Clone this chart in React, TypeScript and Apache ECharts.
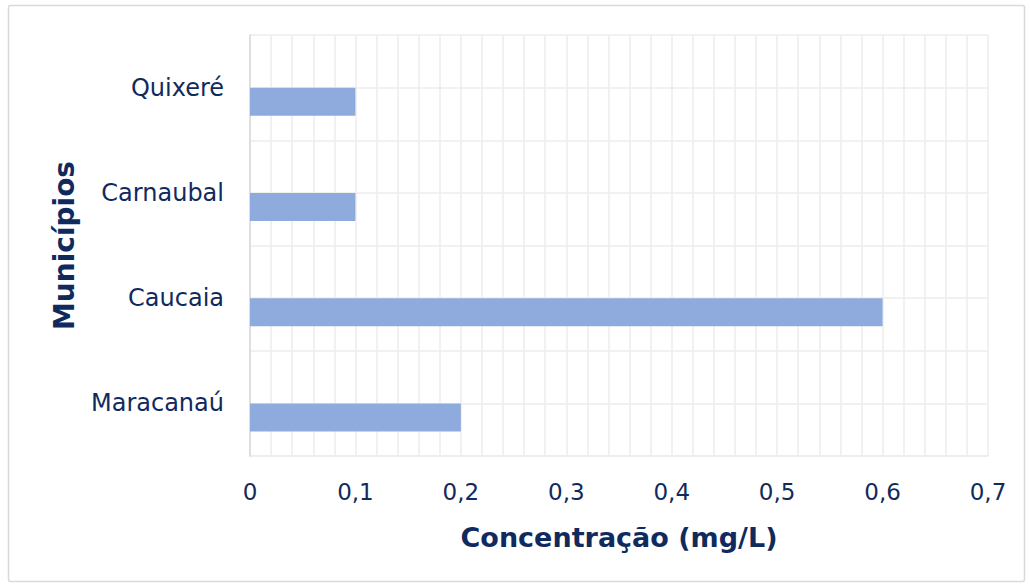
import React, { useEffect, useRef } from "react";
import * as echarts from "echarts";

const categories = ["Maracanaú", "Caucaia", "Carnaubal", "Quixeré"];
const concentrations = [0.2, 0.6, 0.1, 0.1];
const emptySeries = [null, null, null, null];
const xTickLabels = ["0", "0,1", "0,2", "0,3", "0,4", "0,5", "0,6", "0,7"];

const TEXT = "#112a5e";
const FONT = "DejaVu Sans";

export default function App() {
  const ref = useRef<HTMLDivElement>(null);
  useEffect(() => {
    if (!ref.current) return;
    const chart = echarts.init(ref.current, undefined, { renderer: "svg" });
    chart.setOption({
      animation: false,
      backgroundColor: "#ffffff",
      textStyle: { fontFamily: FONT, color: TEXT },
      graphic: [
        {
          type: "rect",
          shape: { x: 8.5, y: 5.5, width: 1016, height: 576, r: 2 },
          style: { fill: "none", stroke: "#D9D9D9", lineWidth: 1.5 },
          silent: true,
          z: -1,
        },
      ],
      grid: { left: 250, right: 42, top: 35, bottom: 130, containLabel: false },
      xAxis: {
        type: "value",
        min: 0,
        max: 0.7,
        interval: 0.1,
        name: "Concentração (mg/L)",
        nameLocation: "middle",
        nameGap: 68,
        nameTextStyle: { fontFamily: FONT, fontSize: 27, fontWeight: "bold", color: TEXT },
        axisLabel: {
          fontFamily: FONT,
          fontSize: 23,
          color: TEXT,
          margin: 24,
          formatter: (v: number) => xTickLabels[Math.round(v * 10)] ?? "",
        },
        axisLine: { show: true, lineStyle: { color: "#EDEDED", width: 1.5 } },
        axisTick: { show: false },
        splitLine: { show: true, lineStyle: { color: "#EDEDED", width: 1.5 } },
        minorTick: { show: false, splitNumber: 5 },
        minorSplitLine: { show: true, lineStyle: { color: "#EDEDED", width: 1.5 } },
      },
      yAxis: [
        {
          type: "category",
          data: categories,
          name: "Municípios",
          nameLocation: "middle",
          nameGap: 172,
          nameRotate: 90,
          nameTextStyle: { fontFamily: FONT, fontSize: 28, fontWeight: "bold", color: TEXT },
          axisLabel: { fontFamily: FONT, fontSize: 24, color: TEXT, margin: 26 },
          axisLine: { show: true, lineStyle: { color: "#D9D9D9", width: 1.5 } },
          axisTick: { show: false },
          splitLine: { show: false },
          z: 3,
        },
        {
          type: "value",
          min: 0,
          max: 8,
          interval: 1,
          show: true,
          axisLabel: { show: false },
          axisLine: { show: false },
          axisTick: { show: false },
          splitLine: { show: true, lineStyle: { color: "#EDEDED", width: 1.5 } },
        },
      ],
      series: [
        {
          type: "bar",
          yAxisIndex: 0,
          data: emptySeries,
          barWidth: 28,
          barGap: "0%",
          itemStyle: { color: "transparent" },
        },
        {
          type: "bar",
          yAxisIndex: 0,
          data: concentrations,
          barWidth: 28,
          barGap: "0%",
          itemStyle: { color: "#8FAADC" },
          z: 4,
        },
      ],
    });
    return () => chart.dispose();
  }, []);
  return (
    <div
      ref={ref}
      style={{ position: "fixed", left: 0, top: 0, width: 1030, height: 586 }}
    />
  );
}
